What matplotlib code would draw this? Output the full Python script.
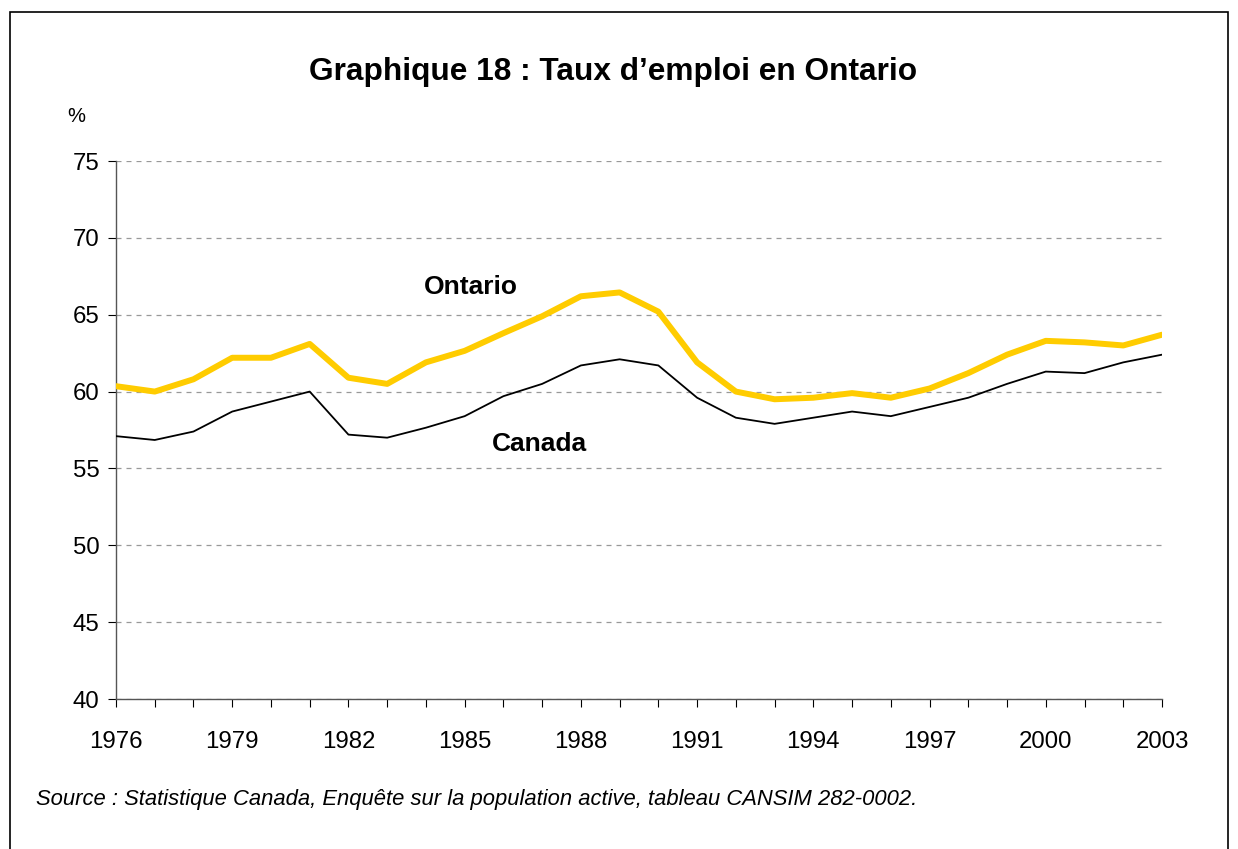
import matplotlib
matplotlib.use("Agg")
import matplotlib.pyplot as plt
from matplotlib.patches import Rectangle

plt.rcParams['font.family'] = ['Liberation Sans', 'DejaVu Sans']

years = list(range(1976, 2004))
ontario = [60.35, 60.0, 60.8, 62.2, 62.2, 63.1, 60.9, 60.5, 61.9, 62.65,
           63.8, 64.9, 66.2, 66.45, 65.2, 61.9, 60.0, 59.5, 59.6, 59.9,
           59.6, 60.2, 61.2, 62.4, 63.3, 63.2, 63.0, 63.7]
canada = [57.1, 56.85, 57.4, 58.7, 59.35, 60.0, 57.2, 57.0, 57.65, 58.4,
          59.7, 60.5, 61.7, 62.1, 61.7, 59.6, 58.3, 57.9, 58.3, 58.7,
          58.4, 59.0, 59.6, 60.5, 61.3, 61.2, 61.9, 62.4]
year_labels = [1976, 1979, 1982, 1985, 1988, 1991, 1994, 1997, 2000, 2003]
y_ticks = [40, 45, 50, 55, 60, 65, 70, 75]

W, H = 1238, 849
fig = plt.figure(figsize=(W / 100, H / 100), dpi=100)
fig.patch.set_facecolor('white')
fig.patches.append(Rectangle((10 / W, -0.01), 1218 / W, 1 - 12 / H + 0.01,
                             transform=fig.transFigure, fill=False,
                             edgecolor='black', linewidth=1.2))

ax = fig.add_axes([116 / W, 1 - 699 / H, (1162 - 116) / W, (699 - 161) / H])
ax.plot(years, ontario, color='#FFCC00', linewidth=4.3, solid_joinstyle='round',
        solid_capstyle='round', zorder=3)
ax.plot(years, canada, color='black', linewidth=1.3, zorder=3)

ax.set_xlim(1976, 2003)
ax.set_ylim(40, 75)
ax.set_yticks(y_ticks)
ax.set_xticks(years, minor=True)
ax.set_xticks(year_labels)
ax.set_xticklabels([str(y) for y in year_labels])
ax.tick_params(axis='x', which='both', length=6, width=0.8, direction='out',
               pad=17, labelsize=17.3)
ax.tick_params(axis='y', length=6, width=0.8, direction='out', pad=6, labelsize=17.3)
for s in ['top', 'right']:
    ax.spines[s].set_visible(False)
for s in ['left', 'bottom']:
    ax.spines[s].set_color('#555555')
    ax.spines[s].set_linewidth(1.0)
ax.grid(axis='y', linestyle=(0, (4, 4)), color='#999999', linewidth=0.9)
ax.set_axisbelow(True)

fig.text(613 / W, 1 - 72 / H, "Graphique 18 : Taux d\u2019emploi en Ontario",
         ha='center', va='center', fontsize=22.8, fontweight='bold')
fig.text(76 / W, 1 - 117 / H, "%", ha='center', va='center', fontsize=14.5)
ax.text(1985.16, 66.78, "Ontario", ha='center', va='center', fontsize=19,
        fontweight='bold')
ax.text(1986.94, 56.58, "Canada", ha='center', va='center', fontsize=19,
        fontweight='bold')
fig.text(36 / W, 1 - 800 / H,
         "Source : Statistique Canada, Enqu\u00eate sur la population active, tableau CANSIM 282-0002.",
         ha='left', va='center', fontsize=15.8, style='italic')

fig.savefig('out.png', dpi=100)
